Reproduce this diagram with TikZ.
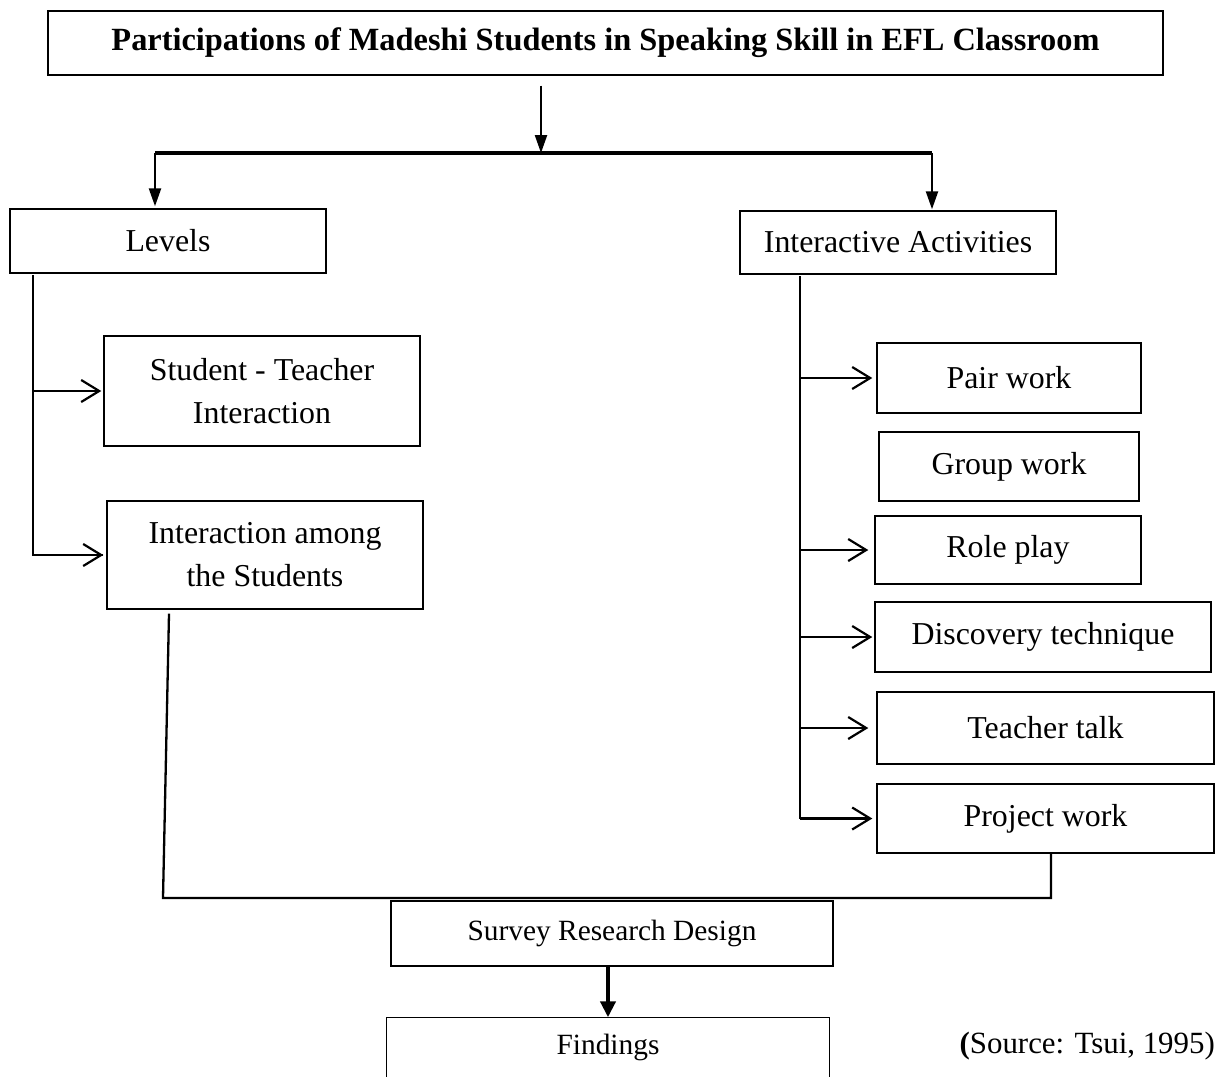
\documentclass[tikz,border=0pt]{standalone}
\usepackage{fontspec}
\setmainfont{Liberation Serif}
\usetikzlibrary{arrows.meta,calc}
\begin{document}
\begin{tikzpicture}[x=1bp,y=-1bp,
  box/.style={draw,line width=1.4bp,inner sep=0pt,align=center,font=\fontsize{32}{43}\selectfont},
  sbox/.style={box,font=\fontsize{29.5}{34}\selectfont},
  conn/.style={line width=2.3bp},
  down/.style={conn,-{Triangle[length=18bp,width=12bp]}},
  side/.style={conn,-{Straight Barb[length=18bp,width=22bp,line width=2.2bp]}},
  thickdown/.style={line width=4.5bp,-{Triangle[length=16bp,width=15bp]}}]
\useasboundingbox (0,0) rectangle (1217,1077);
% nodes
\node[box,minimum width=1115bp,minimum height=64bp,font=\bfseries\fontsize{32.5}{38}\selectfont] (title) at (605.5,43) {Participations of Madeshi Students in Speaking Skill in EFL Classroom};
\node[box,minimum width=316bp,minimum height=64bp] (levels) at (168,241) {Levels};
\node[box,minimum width=316bp,minimum height=63bp] (ia) at (898,242.5) {Interactive Activities};
\node[box,minimum width=316bp,minimum height=110bp] (st) at (262,391) {Student - Teacher\\Interaction};
\node[box,minimum width=316bp,minimum height=108bp] (ias) at (265,555) {Interaction among\\the Students};
\node[box,minimum width=264bp,minimum height=70bp] (pair) at (1009,378) {Pair work};
\node[box,minimum width=260bp,minimum height=69bp] (group) at (1009,466.5) {Group work};
\node[box,minimum width=266bp,minimum height=68bp] (role) at (1008,550) {Role play};
\node[box,minimum width=336bp,minimum height=70bp] (disc) at (1043,637) {Discovery technique};
\node[box,minimum width=337bp,minimum height=72bp] (talk) at (1045.5,728) {Teacher talk};
\node[box,minimum width=337bp,minimum height=69bp] (proj) at (1045.5,818.5) {Project work};
\node[sbox,minimum width=442bp,minimum height=65bp] (survey) at (612,933.5) {Survey Research Design};
\node[sbox,draw=none,minimum width=442bp,minimum height=59bp] (find) at (608,1047.5) {Findings};
\draw[line width=1.4bp] (find.south west) -- (find.north west) -- (find.north east) -- (find.south east);
\node[font=\fontsize{31}{38}\selectfont,anchor=east,inner sep=0pt] (src) at (1215,1046) {\textbf{(}Source: Tsui, 1995)};
% junctions
\coordinate (j) at (541,153);
\coordinate (jl) at (155,153);
\coordinate (jr) at (932,153);
\coordinate (sl) at (33,275);
\coordinate (sr) at (800,276);
\coordinate (b1) at (163,898);
\coordinate (b2) at (1051,898);
% connectors
\draw[down] ([yshift=-10bp]title.south -| j) -- (j);
\draw[line width=3.8bp] (jl) -- (jr);
\draw[down] (jl) -- ([yshift=2bp]levels.north -| jl);
\draw[down] (jr) -- ([yshift=1bp]ia.north -| jr);
\draw[conn] (sl) -- (sl |- ias.west) -- ([xshift=-3bp]ias.west);
\draw[side] (sl |- ias.west) -- ([xshift=-3bp]ias.west);
\draw[side] (sl |- st.west) -- ([xshift=-2bp]st.west);
\draw[conn] (sr) -- (sr |- proj.west);
\draw[side] (sr |- proj.west) -- ([xshift=-4bp]proj.west);
\draw[side] (sr |- pair.west) -- ([xshift=-4bp]pair.west);
\draw[side] (sr |- role.west) -- ([xshift=-6bp]role.west);
\draw[side] (sr |- disc.west) -- ([xshift=-2bp]disc.west);
\draw[side] (sr |- talk.west) -- ([xshift=-8bp]talk.west);
\draw[conn] ([yshift=-4bp]ias.south -| 169,0) -- (b1) -- (b2) -- (proj.south -| b2);
\draw[thickdown] (survey.south -| find.north) -- (find.north);
\end{tikzpicture}
\end{document}
